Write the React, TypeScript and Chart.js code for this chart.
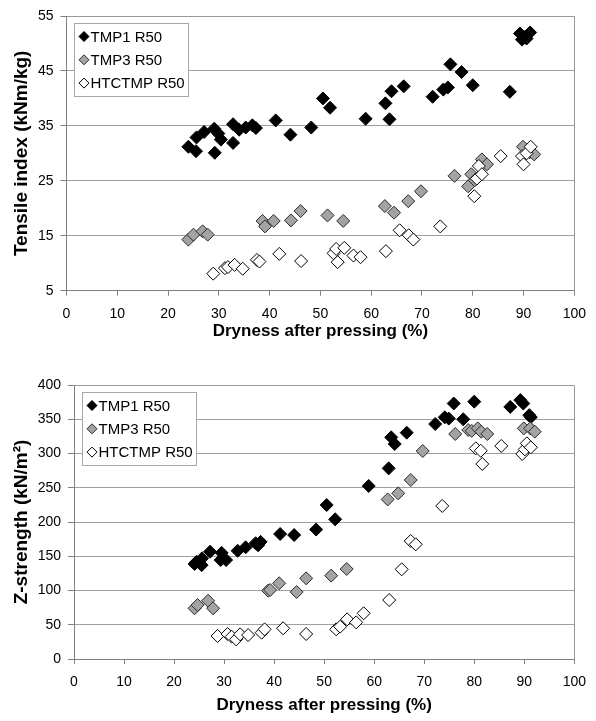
import React, { useEffect, useRef } from "react";
import { Chart, registerables } from "chart.js";

Chart.register(...registerables);

const seriesLabels = ["TMP1 R50", "TMP3 R50", "HTCTMP R50"];
const xTitle = "Dryness after pressing (%)";
const tensileTitle = "Tensile index (kNm/kg)";
const zTitle = "Z-strength (kN/m\u00B2)";

const tensileTMP1: [number, number][] = [
  [24.0, 31.2], [25.5, 30.4], [25.6, 32.9], [27.1, 33.9], [29.1, 34.5], [29.2, 30.1], [29.9, 33.6],
  [30.4, 32.5], [32.8, 31.9], [32.8, 35.3], [34.0, 34.3], [35.3, 34.7], [36.6, 35.1], [37.3, 34.6],
  [41.2, 36.0], [44.1, 33.4], [48.2, 34.7], [50.5, 40.0], [51.9, 38.3], [58.9, 36.3], [62.8, 39.1],
  [63.6, 36.2], [64.0, 41.3], [66.4, 42.2], [72.1, 40.3], [74.2, 41.6], [75.1, 42.0], [75.6, 46.2],
  [77.8, 44.8], [80.0, 42.4], [87.3, 41.2], [89.3, 51.8], [89.7, 50.7], [90.3, 51.2], [90.6, 50.9],
  [91.3, 52.0],
];
const tensileTMP3: [number, number][] = [
  [24.0, 14.3], [25.0, 15.2], [26.8, 15.8], [27.8, 15.2], [38.6, 17.7], [39.1, 16.7], [40.8, 17.7],
  [44.2, 17.8], [46.1, 19.5], [51.4, 18.7], [54.5, 17.7], [62.7, 20.4], [64.5, 19.2], [67.3, 21.3],
  [69.8, 23.1], [76.4, 25.9], [79.1, 24.0], [79.7, 26.2], [80.4, 25.1], [81.8, 28.9], [82.8, 28.0],
  [89.9, 31.2], [91.2, 30.2], [92.1, 29.8],
];
const tensileHTC: [number, number][] = [
  [28.9, 8.1], [31.2, 9.1], [31.8, 9.3], [33.1, 9.7], [34.7, 9.0], [37.5, 10.6], [38.0, 10.3],
  [41.9, 11.7], [46.2, 10.4], [52.6, 11.8], [53.1, 12.6], [53.4, 10.2], [54.7, 12.8], [56.5, 11.4],
  [57.9, 11.1], [62.9, 12.2], [65.6, 16.0], [67.4, 15.1], [68.3, 14.3], [73.6, 16.7], [80.3, 22.2],
  [80.8, 25.4], [81.2, 27.7], [81.8, 26.2], [85.5, 29.5], [89.7, 29.5], [90.0, 28.0], [90.6, 30.0],
  [91.4, 31.2],
];

const zTMP1: [number, number][] = [
  [24.1, 138.7], [24.5, 142], [25.5, 137], [25.6, 147], [27.2, 156.7], [29.3, 144.5], [29.5, 155],
  [30.4, 144.5], [32.7, 158], [34.3, 163], [36.3, 169], [36.8, 166], [37.3, 171], [41.2, 182.5],
  [44.0, 181], [48.4, 189], [50.5, 224.8], [52.2, 203.9], [58.9, 252.6], [62.9, 278.3], [63.4, 323.6],
  [64.1, 313.9], [66.5, 330.4], [72.2, 343], [74.1, 352.8], [74.9, 351], [75.9, 373], [77.8, 350],
  [80.0, 375.7], [87.2, 368], [89.2, 378], [89.8, 373], [91.0, 356], [91.3, 353],
];
const zTMP3: [number, number][] = [
  [24.1, 74], [24.7, 78.8], [26.8, 85], [27.8, 74], [38.8, 99.8], [39.2, 100.7], [41.0, 110.5],
  [44.5, 97.8], [46.4, 117.8], [51.4, 121.7], [54.5, 131.4], [62.7, 233], [64.8, 241.8], [67.3, 261.3],
  [69.7, 303.6], [76.2, 328.5], [78.8, 334.3], [79.5, 333], [80.7, 336.7], [81.4, 331.9], [82.6, 328.5],
  [89.9, 336.7], [91.2, 336.7], [92.1, 331.9],
];
const zHTC: [number, number][] = [
  [28.7, 33.6], [30.7, 36.5], [31.5, 32.6], [32.4, 28.7], [33.2, 36], [34.8, 35], [37.5, 38.4],
  [38.1, 43.3], [41.8, 44.8], [46.4, 36.5], [52.4, 43.3], [53.2, 47.2], [54.6, 57.9], [56.4, 53.5],
  [57.9, 66.7], [63.0, 86.1], [65.5, 130.9], [67.3, 172.3], [68.3, 167.4], [73.6, 223.4], [80.3, 307.5],
  [81.3, 304], [81.6, 284.7], [85.4, 311], [89.6, 299.3], [90.1, 306], [90.5, 314.8], [91.3, 309],
];

const FONT = "'Liberation Sans', Arial, Helvetica, sans-serif";
const fills = ["#000000", "#a3a3a3", "#ffffff"];
const borders = ["#000000", "#2a2a2a", "#000000"];

const frameLegendPlugin = {
  id: "frameLegend",
  afterDatasetsDraw(chart: any) {
    const { ctx, chartArea } = chart;
    ctx.save();
    // top & right frame
    ctx.strokeStyle = "#9a9a9a";
    ctx.lineWidth = 1;
    ctx.beginPath();
    const l = Math.round(chartArea.left) + 0.5;
    const t = Math.round(chartArea.top) + 0.5;
    const r = Math.round(chartArea.right) + 0.5;
    const b = Math.round(chartArea.bottom) + 0.5;
    ctx.moveTo(l, t);
    ctx.lineTo(r, t);
    ctx.lineTo(r, b);
    ctx.stroke();
    // legend box
    const bx = Math.round(chartArea.left + 7.5) + 0.5;
    const by = Math.round(chartArea.top + 7) + 0.5;
    const bw = 114;
    const bh = 73;
    ctx.fillStyle = "#ffffff";
    ctx.fillRect(bx, by, bw, bh);
    ctx.strokeStyle = "#a8a8a8";
    ctx.strokeRect(bx, by, bw, bh);
    ctx.font = `15px ${FONT}`;
    ctx.textBaseline = "middle";
    ctx.textAlign = "left";
    chart.data.datasets.forEach((ds: any, i: number) => {
      const cy = by + 13 + i * 23.3;
      const cx = bx + 9.5;
      const rr = 5;
      ctx.beginPath();
      ctx.moveTo(cx - rr, cy);
      ctx.lineTo(cx, cy - rr);
      ctx.lineTo(cx + rr, cy);
      ctx.lineTo(cx, cy + rr);
      ctx.closePath();
      ctx.fillStyle = fills[i];
      ctx.fill();
      ctx.strokeStyle = borders[i];
      ctx.lineWidth = 1;
      ctx.stroke();
      ctx.fillStyle = "#000000";
      ctx.fillText(ds.label, bx + 16, cy + 1);
    });
    ctx.restore();
  },
};

function makeConfig(
  series: [number, number][][],
  yMin: number,
  yMax: number,
  yStep: number,
  yTitle: string,
  plotLeft: number,
  plotTop: number,
  xAxisHeight: number,
  xTitlePadBottom: number
): any {
  return {
    type: "scatter",
    data: {
      datasets: series.map((pts, i) => ({
        label: seriesLabels[i],
        data: pts.map(([x, y]) => ({ x, y })),
        pointStyle: "rectRot",
        pointRadius: 6.5,
        pointBackgroundColor: fills[i],
        pointBorderColor: borders[i],
        pointBorderWidth: 1,
        backgroundColor: fills[i],
        borderColor: borders[i],
        order: 3 - i,
      })),
    },
    options: {
      responsive: false,
      animation: false,
      devicePixelRatio: 1,
      layout: { padding: { top: plotTop, right: 15.3, bottom: 0, left: 0 } },
      plugins: { legend: { display: false }, tooltip: { enabled: false } },
      scales: {
        x: {
          type: "linear",
          min: 0,
          max: 100,
          ticks: { stepSize: 10, color: "#000", font: { family: FONT, size: 14 }, padding: 10, maxRotation: 0 },
          grid: { drawOnChartArea: false, drawTicks: true, tickLength: 5, color: "#808080" },
          border: { display: true, color: "#808080", width: 1 },
          title: {
            display: true,
            text: xTitle,
            color: "#000",
            font: { family: FONT, size: 17, weight: "bold" },
            padding: { top: 0, bottom: xTitlePadBottom },
          },
          afterFit(scale: any) {
            scale.height = xAxisHeight;
          },
        },
        y: {
          type: "linear",
          min: yMin,
          max: yMax,
          ticks: { stepSize: yStep, color: "#000", font: { family: FONT, size: 14 }, padding: 7 },
          grid: { drawOnChartArea: true, drawTicks: true, tickLength: 6, color: "#a0a0a0", tickColor: "#808080" },
          border: { display: true, color: "#808080", width: 1 },
          title: {
            display: true,
            text: yTitle,
            color: "#000",
            font: { family: FONT, size: 19, weight: "bold" },
            padding: { top: 10.5, bottom: 0 },
          },
          afterFit(scale: any) {
            scale.width = plotLeft;
          },
        },
      },
    },
    plugins: [frameLegendPlugin],
  };
}

function ChartCanvas({ config, width, height, top }: any) {
  const ref = useRef<HTMLCanvasElement | null>(null);
  useEffect(() => {
    if (!ref.current) return;
    const chart = new Chart(ref.current, config);
    return () => chart.destroy();
  }, []);
  return (
    <canvas
      ref={ref}
      width={width}
      height={height}
      style={{ position: "absolute", left: 0, top, width, height, display: "block" }}
    />
  );
}

export default function App() {
  const topCfg = makeConfig([tensileTMP1, tensileTMP3, tensileHTC], 5, 55, 10, tensileTitle, 66.5, 16, 59.3, 8.8);
  const botCfg = makeConfig([zTMP1, zTMP3, zHTC], 0, 400, 50, zTitle, 74, 25, 62, 5.8);
  return (
    <div style={{ position: "absolute", left: 0, top: 0, width: 596, height: 721, background: "#fff" }}>
      <ChartCanvas config={topCfg} width={596} height={350} top={0} />
      <ChartCanvas config={botCfg} width={596} height={361} top={360} />
    </div>
  );
}
